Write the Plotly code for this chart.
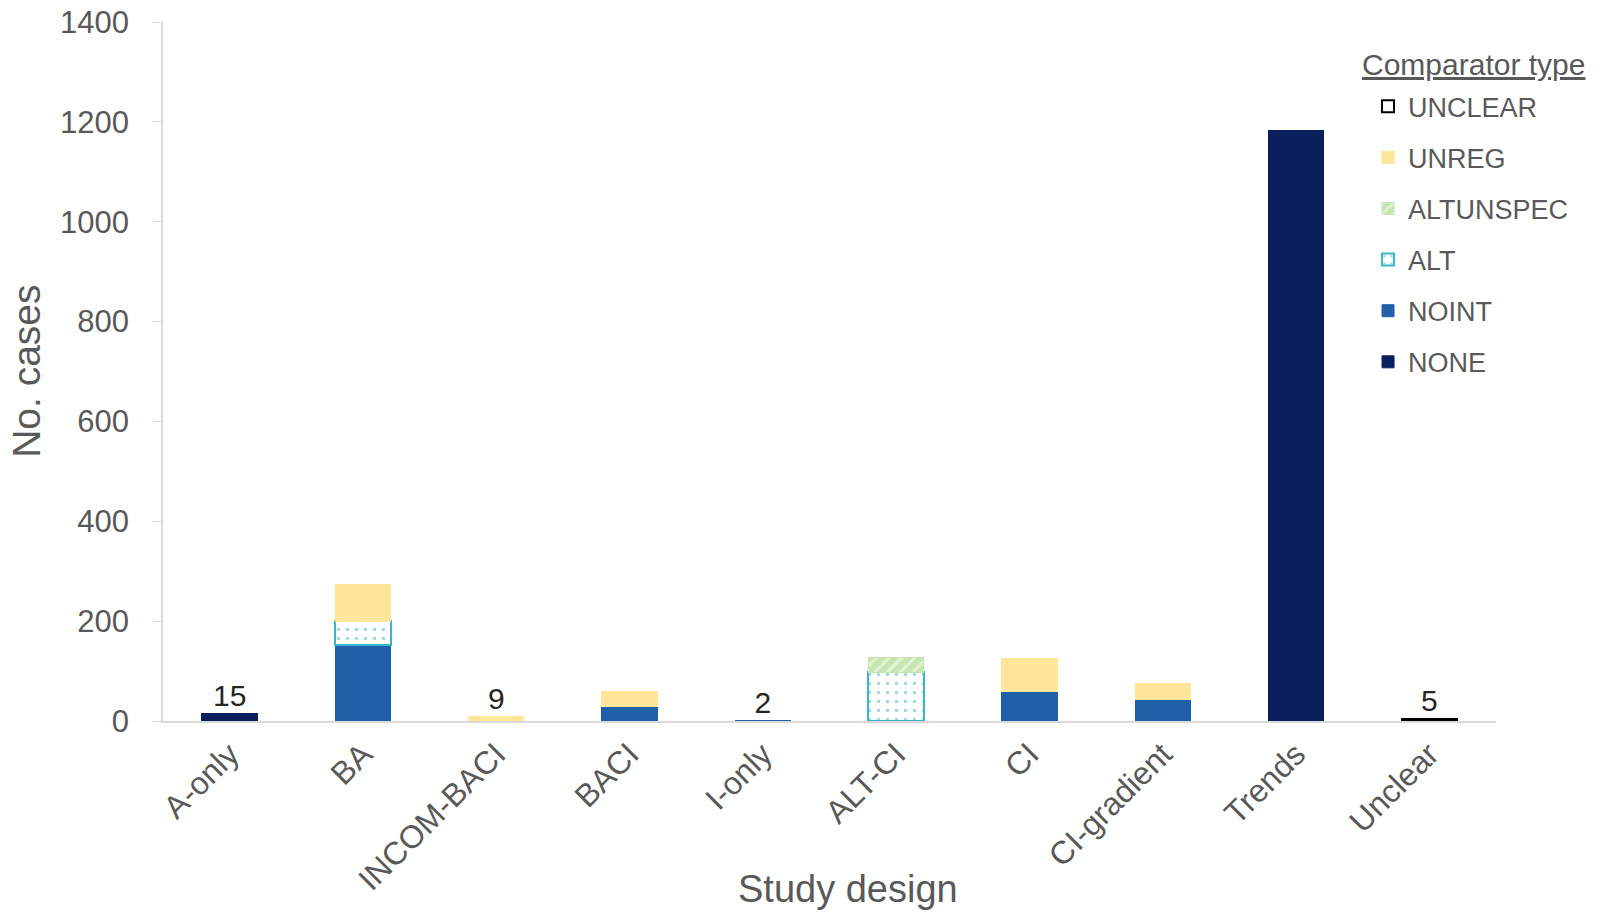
import plotly.graph_objects as go

categories = ["A-only", "BA", "INCOM-BACI", "BACI", "I-only", "ALT-CI", "CI",
              "CI-gradient", "Trends", "Unclear"]

none_vals      = [15, 0, 0, 0, 0, 0, 0, 0, 1182, 0]
noint_vals     = [0, 153, 0, 30, 2, 0, 60, 44, 0, 0]
alt_vals       = [0, 47, 0, 0, 0, 98, 0, 0, 0, 0]
altunspec_vals = [0, 0, 0, 0, 0, 30, 0, 0, 0, 0]
unreg_vals     = [0, 74, 9, 30, 0, 0, 65, 32, 0, 0]
unclear_vals   = [0, 0, 0, 0, 0, 0, 0, 0, 0, 5]

label_cats = ["A-only", "INCOM-BACI", "I-only", "Unclear"]
label_vals = [15, 9, 2, 5]

FONT = "Liberation Sans, Arial, sans-serif"
GREY = "#595959"

fig = go.Figure()

series = [
    ("NONE", none_vals, dict(color="#0B1F5E", line=dict(color="#0B1F5E", width=1))),
    ("NOINT", noint_vals, dict(color="#2160A8", line=dict(color="#2160A8", width=1))),
    ("ALT", alt_vals, dict(color="white", line=dict(color="#3BB6C6", width=2),
                           pattern=dict(shape=".", fgcolor="#3BB6C6", bgcolor="white",
                                        size=9, solidity=0.12, fillmode="overlay"))),
    ("ALTUNSPEC", altunspec_vals, dict(color="#C5E6B0", line=dict(color="#C5E6B0", width=1),
                                       pattern=dict(shape="/", fgcolor="white", bgcolor="#C5E6B0",
                                                    size=9, solidity=0.35, fillmode="overlay"))),
    ("UNREG", unreg_vals, dict(color="#FFE699", line=dict(color="#FFE699", width=1))),
    ("UNCLEAR", unclear_vals, dict(color="white", line=dict(color="black", width=2))),
]

n = len(series)
for i, (name, vals, marker) in enumerate(series):
    yv = [v if v else None for v in vals]
    fig.add_trace(go.Bar(x=categories, y=yv, name=name, marker=marker,
                         legendgroup=name, legendrank=1000 + (n - i),
                         hoverinfo="x+y+name"))

fig.add_trace(go.Scatter(x=label_cats, y=label_vals, text=[str(v) for v in label_vals],
                         mode="text", textposition="top center", showlegend=False,
                         textfont=dict(family=FONT, size=30, color="#262626"),
                         hoverinfo="skip"))

fig.update_layout(
    width=1602, height=914,
    barmode="stack", bargap=0.585,
    plot_bgcolor="white", paper_bgcolor="white",
    margin=dict(l=155, r=114, t=14, b=201, autoexpand=False),
    font=dict(family=FONT, color=GREY, size=26),
    showlegend=True,
    legend=dict(
        traceorder="grouped", tracegroupgap=13,
        x=0.904, xanchor="left", y=0.9138, yanchor="top",
        bgcolor="rgba(255,255,255,0)",
        font=dict(size=27, color=GREY, family=FONT),
        itemwidth=30,
    ),
    xaxis=dict(
        showline=True, linecolor="#D9D9D9", linewidth=1.5, automargin=False,
        tickangle=-45, tickfont=dict(size=32, color=GREY, family=FONT),
        ticks="", showgrid=False,
    ),
    yaxis=dict(
        range=[0, 1400], dtick=200, showgrid=False, zeroline=False, automargin=False,
        showline=True, linecolor="#D9D9D9", linewidth=1.5,
        ticks="outside", tickcolor="#D9D9D9", ticklen=8, ticklabelstandoff=18,
        ticklabeloverflow="allow",
        tickfont=dict(size=31, color=GREY, family=FONT),
    ),
    annotations=[
        dict(text="Study design", xref="paper", yref="paper", x=0.514, y=-0.2407,
             xanchor="center", yanchor="middle",
             showarrow=False, font=dict(size=38, color=GREY, family=FONT)),
        dict(text="No. cases", xref="paper", yref="paper", x=-0.1025, y=0.5,
             xanchor="center", yanchor="middle", textangle=-90,
             showarrow=False, font=dict(size=39, color=GREY, family=FONT)),
        dict(text="<u>Comparator type</u>", xref="paper", yref="paper", x=0.898, y=0.9387,
             xanchor="left", yanchor="middle",
             showarrow=False, font=dict(size=30, color=GREY, family=FONT)),
    ],
)

fig.write_html("out.html")
